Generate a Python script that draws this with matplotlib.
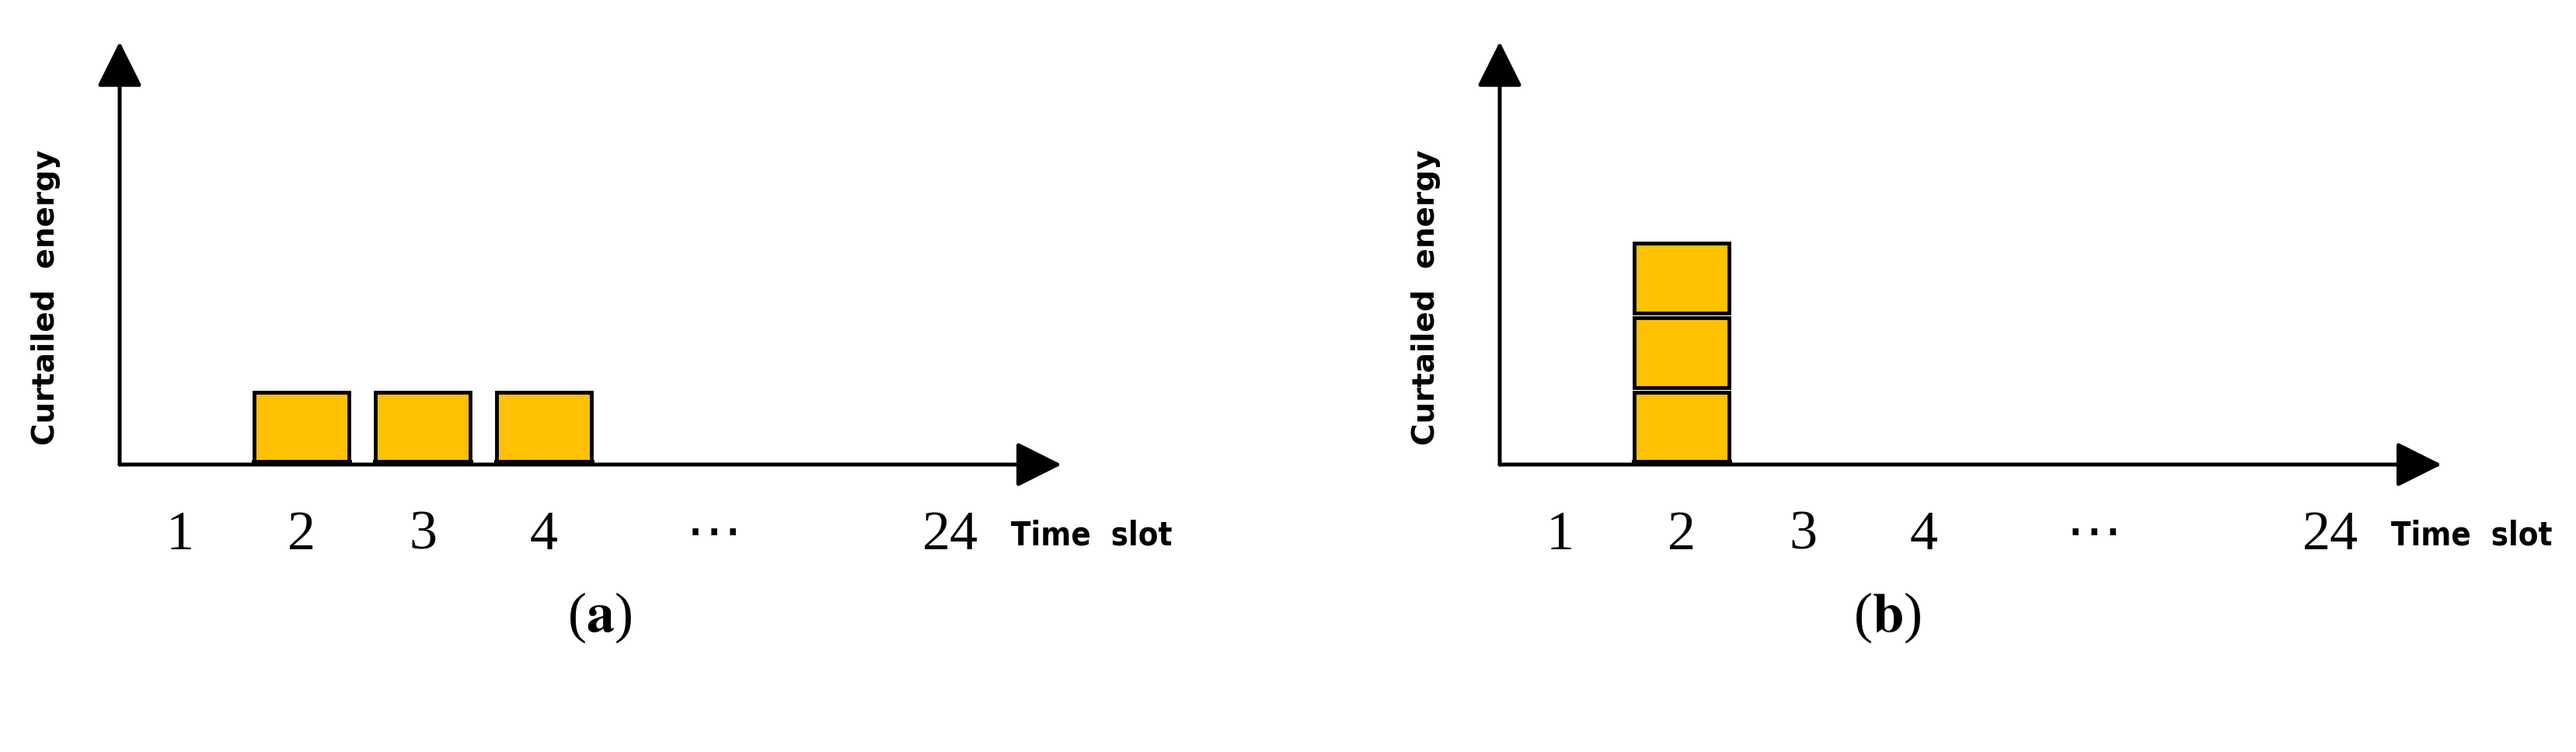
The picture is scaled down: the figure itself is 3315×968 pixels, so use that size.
import matplotlib.pyplot as plt
from matplotlib.patches import Rectangle

# data
slot_labels = ["1", "2", "3", "4", "\u22ef", "24"]
slot_pos = [1, 2, 3, 4, 5.4, 7.35]
bars_a_slots = [2, 3, 4]
bars_a_counts = [1, 1, 1]
bars_b_slots = [2]
bars_b_counts = [3]
panel_tags = ["a", "b"]

W, H = 3315, 968
fig = plt.figure(figsize=(W / 100, H / 100), dpi=100)

SLOT_PX = 156.0
UNIT_PX = 96.0
BASE_PX = 598  # from top
SERIF = ["Liberation Serif", "DejaVu Serif", "DejaVu Sans"]


def panel(left_px, origin_px, slots, counts, tag):
    ax = fig.add_axes([left_px / W, 0, 1658 / W, 1])
    ax.set_xlim(0.5 - (origin_px - left_px) / SLOT_PX, 0.5 + (left_px + 1658 - origin_px) / SLOT_PX)
    ax.set_ylim(-(H - BASE_PX) / UNIT_PX, BASE_PX / UNIT_PX)
    ax.axis("off")
    x_end = 8.27
    y_top = 5.67
    ap = dict(arrowstyle="-|>,head_width=0.45,head_length=0.9", color="black", lw=3.6,
              shrinkA=0, shrinkB=0, mutation_scale=40)
    ax.annotate("", xy=(x_end, 0), xytext=(0.5, 0), arrowprops=ap)
    ax.annotate("", xy=(0.5, y_top), xytext=(0.5, 0), arrowprops=ap)

    for s, n in zip(slots, counts):
        for k in range(n):
            ax.add_patch(Rectangle((s - 0.39, k + 0.03), 0.78, 0.94, facecolor="#FFC000",
                                   edgecolor="black", lw=3.5, zorder=3))
    for s in slots:
        ax.plot([s - 0.39, s + 0.39], [0.03, 0.03], color="black", lw=5, zorder=4)

    for p, lab in zip(slot_pos, slot_labels):
        ax.text(p, -0.95, lab, ha="center", va="center", fontsize=52, family=SERIF)
    ax.text(7.85, -0.95, "Time  slot", ha="left", va="center", fontsize=30,
            fontweight="bold", family="DejaVu Sans", fontstretch="condensed")
    ax.text(-0.11, 2.24, "Curtailed  energy", rotation=90,
            ha="center", va="center", fontsize=28, fontweight="bold", family="DejaVu Sans")
    x_tag = 0.5 + (772 + left_px - origin_px) / SLOT_PX
    y_tag = -(795 - BASE_PX) / UNIT_PX
    ax.text(x_tag, y_tag, "(" + r"$\mathbf{" + tag + "}$" + ")", ha="center", va="center",
            fontsize=52, family=SERIF, math_fontfamily="stix")
    return ax


panel(0, 154, bars_a_slots, bars_a_counts, panel_tags[0])
panel(1657, 1930, bars_b_slots, bars_b_counts, panel_tags[1])

fig.savefig("out.png", dpi=100)
